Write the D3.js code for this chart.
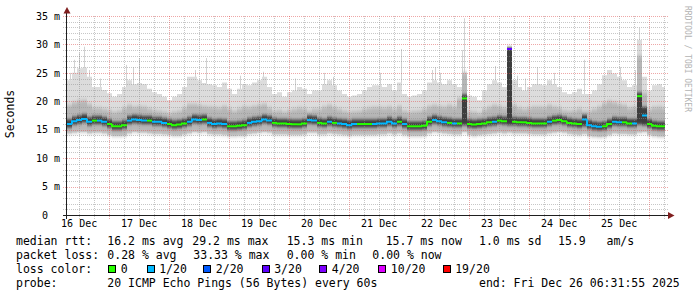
<!DOCTYPE html>
<html><head><meta charset="utf-8">
<script src="https://cdn.jsdelivr.net/npm/d3@7/dist/d3.min.js"></script>
<style>
html,body{margin:0;padding:0;background:#fff;}
svg{display:block;}
text{white-space:pre;}
</style></head><body>
<svg id="chart" width="697" height="297"></svg>
<script>
// ---------------- data ----------------
const startTime = "2025-12-16T07:20:00Z";
const endTime = "2025-12-26T06:32:00Z";
const stepHours = 2;

const median = [16.0,16.5,16.7,16.9,16.4,16.6,16.6,16.4,16.0,15.6,
15.6,15.8,16.6,16.8,16.7,16.6,16.6,16.4,16.4,16.2,
16.0,15.8,15.9,16.1,16.4,16.8,16.7,16.8,16.2,16.0,
16.1,16.0,15.6,15.6,15.7,15.8,16.2,16.4,16.5,16.8,
16.6,16.2,16.1,16.1,16.0,15.95,15.95,16.1,16.7,16.6,
16.2,16.1,16.4,16.2,16.1,16.0,15.8,16.0,16.0,16.0,
16.0,16.0,16.1,16.1,16.4,16.1,16.4,16.0,15.6,15.6,
15.6,15.7,16.4,16.7,16.5,16.3,16.2,16.1,16.1,20.5,
16.0,15.9,16.0,16.1,16.3,16.4,16.6,16.5,29.2,16.4,
16.3,16.3,16.2,16.1,16.1,16.1,16.4,16.6,16.7,16.5,
16.2,16.1,16.0,16.8,15.8,15.6,15.5,15.6,16.0,16.4,
16.3,16.3,16.1,16.1,20.9,17.5,16.0,15.7,15.6,15.6];

const loss = [1,1,1,1,1,0,1,1,0,0,
0,0,1,1,1,1,0,1,1,1,
0,0,0,0,1,1,1,0,1,1,
1,1,0,0,0,0,1,1,1,1,
1,0,0,0,0,0,0,0,1,1,
0,0,1,0,1,1,1,1,0,0,
0,1,1,1,1,1,0,1,0,0,
0,0,0,1,1,1,0,1,0,0,
0,0,0,0,0,1,0,0,3,0,
0,0,0,0,0,0,1,0,0,0,
0,0,0,1,1,1,1,0,0,1,
1,0,0,1,0,1,0,0,0,0];

const minv = [14.4,14.5,14.6,14.6,14.4,14.5,14.5,14.4,14.1,13.9,
13.9,14.0,14.4,14.6,14.5,14.5,14.4,14.3,14.3,14.2,
14.1,14.0,14.0,14.2,14.4,14.6,14.5,14.6,14.3,14.2,
14.2,14.1,13.9,13.9,14.0,14.0,14.3,14.4,14.5,14.6,
14.5,14.2,14.2,14.2,14.1,14.1,14.1,14.2,14.5,14.5,
14.2,14.2,14.4,14.3,14.2,14.1,14.0,14.1,14.1,14.1,
14.1,14.1,14.2,14.2,14.4,14.2,14.4,14.1,13.9,13.9,
13.9,14.0,14.4,14.6,14.5,14.4,14.3,14.2,14.2,14.6,
14.1,14.0,14.1,14.2,14.3,14.4,14.5,14.4,14.5,14.4,
14.4,14.4,14.3,14.2,14.2,14.2,14.4,14.5,14.6,14.5,
14.3,14.2,14.1,14.3,13.9,13.8,13.7,13.8,14.1,14.4,
14.3,14.3,14.2,14.2,14.5,14.6,14.1,13.9,13.8,13.8];

const darkLo = [15.4,15.9,16.1,16.3,15.8,16.0,16.0,15.8,15.4,15.0,
15.0,15.2,16.0,16.2,16.1,16.0,16.0,15.8,15.8,15.6,
15.4,15.2,15.3,15.5,15.8,16.2,16.1,16.2,15.6,15.4,
15.5,15.4,15.0,15.0,15.1,15.2,15.6,15.8,15.9,16.2,
16.0,15.6,15.5,15.5,15.4,15.35,15.35,15.5,16.1,16.0,
15.6,15.5,15.8,15.6,15.5,15.4,15.2,15.4,15.4,15.4,
15.4,15.4,15.5,15.5,15.8,15.5,15.8,15.4,15.0,15.0,
15.0,15.1,15.8,16.1,15.9,15.7,15.6,15.5,15.5,15.8,
15.4,15.3,15.4,15.5,15.7,15.8,16.0,15.9,15.8,15.8,
15.7,15.7,15.6,15.5,15.5,15.5,15.8,16.0,16.1,15.9,
15.6,15.5,15.4,15.6,15.2,15.0,14.9,15.0,15.4,15.8,
15.7,15.7,15.5,15.5,15.9,15.8,15.4,15.1,15.0,15.0];

const darkHi = [16.8,17.3,17.5,17.7,17.2,17.4,17.4,17.2,16.8,16.4,
16.4,16.6,17.4,17.6,17.5,17.4,17.4,17.2,17.2,17.0,
16.8,16.6,16.7,16.9,17.2,17.6,17.5,17.6,17.0,16.8,
16.9,16.8,16.4,16.4,16.5,16.6,17.0,17.2,17.3,17.6,
17.4,17.0,16.9,16.9,16.8,16.75,16.75,16.9,17.5,17.4,
17.0,16.9,17.2,17.0,16.9,16.8,16.6,16.8,16.8,16.8,
16.8,16.8,16.9,16.9,17.2,16.9,17.2,16.8,16.4,16.4,
16.4,16.5,17.2,17.5,17.3,17.1,17.0,16.9,16.9,21.2,
16.8,16.7,16.8,16.9,17.1,17.2,17.4,17.3,29.4,17.2,
17.1,17.1,17.0,16.9,16.9,16.9,17.2,17.4,17.5,17.3,
17.0,16.9,16.8,17.6,16.6,16.4,16.3,16.4,16.8,17.2,
17.1,17.1,16.9,16.9,21.5,19.0,16.8,16.5,16.4,16.4];

const midHi = [19.3,19.8,20.1,20.2,19.5,18.8,18.8,18.6,18.4,18.1,
18.3,18.8,19.3,19.0,19.1,19.0,18.7,18.4,18.3,18.1,
17.9,18.1,18.3,18.8,19.5,19.5,19.3,19.1,19.0,18.9,
18.8,19.1,18.7,18.3,18.7,19.0,18.9,19.1,19.3,19.5,
18.8,18.3,18.4,18.1,18.4,18.6,18.8,18.7,18.3,18.6,
18.6,19.0,19.3,18.9,18.6,18.3,18.1,18.2,18.3,18.6,
18.8,18.9,18.9,18.8,19.0,18.6,19.1,18.3,18.1,18.2,
18.3,18.6,19.1,19.3,19.1,19.0,19.3,19.0,20.5,25.0,
18.2,18.1,17.9,18.6,19.0,19.3,19.1,18.8,29.4,19.3,
18.8,18.6,18.8,19.0,19.0,18.9,19.3,19.0,18.8,18.4,
18.3,18.4,18.7,18.3,18.3,18.6,19.0,19.6,20.0,19.8,
19.5,19.3,18.8,18.9,28.0,21.5,18.6,18.9,19.0,18.8];

const maxv = [23.7,25.0,25.8,25.9,24.3,22.5,22.5,22.0,21.4,20.8,
21.3,22.5,23.7,23.0,23.2,23.0,22.2,21.6,21.3,20.8,
20.2,20.8,21.3,22.5,24.3,24.3,23.7,23.2,23.0,22.8,
22.5,23.3,22.2,21.3,22.2,23.0,22.8,23.3,23.7,24.3,
22.5,21.3,21.6,20.8,21.6,21.9,22.5,22.2,21.3,21.9,
21.9,23.0,23.7,22.8,21.9,21.3,20.8,21.0,21.3,21.9,
22.5,22.8,22.8,22.5,23.0,21.9,23.3,21.3,20.8,21.0,
21.3,21.9,23.3,23.7,23.3,23.0,23.7,23.0,22.5,25.0,
21.0,20.8,20.2,21.9,23.0,23.7,23.3,22.5,29.5,23.7,
22.5,21.9,22.5,23.0,23.0,22.8,23.7,23.0,22.5,21.6,
21.3,21.6,22.2,21.3,21.3,21.9,23.0,24.6,25.5,24.9,
24.3,23.7,22.5,22.8,30.8,24.3,21.9,22.8,23.0,22.5];

const streakTimes = ["2025-12-16T08:32Z","2025-12-16T10:08Z","2025-12-16T12:08Z","2025-12-16T14:08Z","2025-12-16T16:08Z","2025-12-16T20:32Z",
"2025-12-17T06:56Z","2025-12-17T09:44Z","2025-12-17T12:08Z","2025-12-18T10:32Z","2025-12-18T14:56Z","2025-12-19T04:32Z",
"2025-12-19T13:44Z","2025-12-20T02:32Z","2025-12-20T14:08Z","2025-12-20T17:44Z","2025-12-21T12:32Z","2025-12-21T21:20Z",
"2025-12-22T09:20Z","2025-12-22T10:32Z","2025-12-22T12:32Z","2025-12-22T21:20Z","2025-12-22T22:08Z","2025-12-23T10:32Z",
"2025-12-23T19:20Z","2025-12-23T22:32Z","2025-12-24T03:20Z","2025-12-24T10:08Z","2025-12-24T22:08Z","2025-12-25T12:32Z",
"2025-12-25T18:32Z","2025-12-25T20:08Z"];
const streakValues = [25.0,27.3,28.5,29.6,25.5,24.0,26.4,26.0,27.6,25.5,27.6,24.5,
25.2,24.0,25.0,24.3,25.0,29.2,25.5,26.0,25.0,29.0,34.6,26.2,24.5,24.0,26.0,25.0,27.3,26.0,25.5,32.9];

const yTickValues = [0,5,10,15,20,25,30,35];
const yTickLabels = ["0  ","5 m","10 m","15 m","20 m","25 m","30 m","35 m"];
const xTickTimes = ["2025-12-16T12:00Z","2025-12-17T12:00Z","2025-12-18T12:00Z","2025-12-19T12:00Z","2025-12-20T12:00Z",
"2025-12-21T12:00Z","2025-12-22T12:00Z","2025-12-23T12:00Z","2025-12-24T12:00Z","2025-12-25T12:00Z"];
const xTickLabels = ["16 Dec","17 Dec","18 Dec","19 Dec","20 Dec","21 Dec","22 Dec","23 Dec","24 Dec","25 Dec"];

const lossCounts = [0,1,2,3,4,10,19];
const lossLabels = ["0","1/20","2/20","3/20","4/20","10/20","19/20"];
const lossColors = ["#26ff00","#00b8ff","#0059ff","#5e00ff","#7e00ff","#dd00ff","#ff0000"];

const rttStats = ["16.2 ms avg","29.2 ms max","15.3 ms min","15.7 ms now","1.0 ms sd","15.9   am/s"];
const lossStats = ["0.28 % avg","33.33 % max","0.00 % min","0.00 % now"];
const probeText = "20 ICMP Echo Pings (56 Bytes) every 60s";
const endText = "end: Fri Dec 26 06:31:55 2025";
const yAxisTitle = "Seconds";
const watermark = "RRDTOOL / TOBI OETIKER";

// ---------------- drawing ----------------
const MONO = "'DejaVu Sans Mono', monospace";
const svg = d3.select("#chart");
const x = d3.scaleUtc().domain([new Date(startTime), new Date(endTime)]).range([67, 665]);
const y = d3.scaleLinear().domain([0, 35]).range([215, 16]);
const t0 = new Date(startTime);
const H = 3600e3;
const rows = median.map((m, i) => ({
  t: new Date(+t0 + i * stepHours * H), med: m, loss: loss[i],
  lo: minv[i], dLo: darkLo[i], dHi: darkHi[i], mHi: midHi[i], hi: maxv[i]
}));
const ext = rows.concat([{...rows[rows.length - 1], t: new Date(+t0 + rows.length * stepHours * H)}]);

svg.append("rect").attr("width", 697).attr("height", 297).attr("fill", "#fff");
const defs = svg.append("defs");
defs.append("clipPath").attr("id", "plot").append("rect")
  .attr("x", 67).attr("y", 10).attr("width", 598).attr("height", 205);
const f1 = defs.append("filter").attr("id", "softMid").attr("x", "-5%").attr("y", "-50%").attr("width", "110%").attr("height", "200%");
f1.append("feGaussianBlur").attr("stdDeviation", "0.4 2.2");
const f2 = defs.append("filter").attr("id", "softDark").attr("x", "-5%").attr("y", "-50%").attr("width", "110%").attr("height", "200%");
f2.append("feGaussianBlur").attr("stdDeviation", "0.3 1.6");

const gData = svg.append("g").attr("clip-path", "url(#plot)");

// thin smoke streaks
gData.selectAll("line.streak").data(streakTimes).join("line")
  .attr("x1", d => Math.floor(x(new Date(d))) + 0.5)
  .attr("x2", d => Math.floor(x(new Date(d))) + 0.5)
  .attr("y1", y(18))
  .attr("y2", (d, i) => y(streakValues[i]))
  .attr("stroke", "#d2d2d2").attr("stroke-width", 1);

const band = (lo, hi) => d3.area().curve(d3.curveStepAfter)
  .x(d => x(d.t)).y0(d => y(d[lo])).y1(d => y(d[hi]));
gData.append("path").datum(ext).attr("d", band("lo", "hi")).attr("fill", "#dcdcdc");
gData.append("g").attr("filter", "url(#softMid)")
  .append("path").datum(ext).attr("d", band("lo", "mHi")).attr("fill", "#b6b6b6");
gData.append("g").attr("filter", "url(#softDark)")
  .append("path").datum(ext).attr("d", band("dLo", "dHi")).attr("fill", "#3c3c3c");

// grid
const gGrid = svg.append("g");
const minorC = "rgba(143,143,143,0.5)", majorC = "rgba(222,79,79,0.5)";
y.ticks(35).filter(v => v > 0).forEach(v => {
  const yy = Math.round(y(v)) + 0.5;
  gGrid.append("line").attr("x1", 63).attr("x2", 668).attr("y1", yy).attr("y2", yy)
    .attr("stroke", v % 5 ? minorC : majorC).attr("stroke-dasharray", "1,1");
});
d3.utcHour.every(6).range(x.domain()[0], x.domain()[1]).forEach(t => {
  const xx = Math.round(x(t)) + 0.5;
  gGrid.append("line").attr("x1", xx).attr("x2", xx).attr("y1", 16).attr("y2", 219)
    .attr("stroke", t.getUTCHours() === 0 ? majorC : minorC).attr("stroke-dasharray", "1,1");
});

// median line coloured by loss
const colorFor = n => { let c = lossColors[0]; lossCounts.forEach((k, j) => { if (n >= k) c = lossColors[j]; }); return c; };
const lineGen = d3.line();
const gMed = svg.append("g").attr("clip-path", "url(#plot)");
rows.forEach((r, i) => {
  const x0 = x(r.t), x1 = x(ext[i + 1].t);
  let pts = [[x0, y(r.med)], [x1, y(r.med)]];
  if (i > 0) {
    const p = rows[i - 1];
    if (colorFor(p.loss) === colorFor(r.loss) && Math.abs(p.med - r.med) < 2.5) pts = [[x0, y(p.med)]].concat(pts);
  }
  gMed.append("path").attr("d", lineGen(pts)).attr("fill", "none")
    .attr("stroke", colorFor(r.loss)).attr("stroke-width", 2);
});

// axes lines + arrows
svg.append("line").attr("x1", 63).attr("x2", 669).attr("y1", 215.5).attr("y2", 215.5).attr("stroke", "#1f1f1f");
svg.append("line").attr("x1", 66.5).attr("x2", 66.5).attr("y1", 219).attr("y2", 12).attr("stroke", "#1f1f1f");
svg.append("path").attr("d", "M63.5,13.5 L70.5,13.5 L67,7 Z").attr("fill", "#801f1f");
svg.append("path").attr("d", "M668,212 L668,219 L674.5,215.5 Z").attr("fill", "#801f1f");

// axis labels via d3 axes
const yAxis = svg.append("g").attr("transform", "translate(67,0)")
  .call(d3.axisLeft(y).tickValues(yTickValues).tickFormat((d, i) => yTickLabels[i]).tickSize(0).tickPadding(7));
yAxis.select(".domain").remove();
yAxis.selectAll("text").attr("font-family", MONO).attr("font-size", 10).attr("fill", "#000");

const xAxis = svg.append("g").attr("transform", "translate(0,215)")
  .call(d3.axisBottom(x).tickValues(xTickTimes.map(s => new Date(s))).tickFormat((d, i) => xTickLabels[i]).tickSize(0).tickPadding(5));
xAxis.select(".domain").remove();
xAxis.selectAll("text").attr("font-family", MONO).attr("font-size", 10).attr("fill", "#000");

// vertical title
svg.append("text").attr("transform", "translate(14,114) rotate(-90)").attr("text-anchor", "middle")
  .attr("font-family", MONO).attr("font-size", 11.5).attr("fill", "#000").text(yAxisTitle);
// watermark
svg.append("text").attr("transform", "translate(685,59) rotate(90)").attr("text-anchor", "middle")
  .attr("font-family", MONO).attr("font-size", 8).attr("fill", "#b3b3b3").text(watermark);

// legend
const leg = svg.append("g").attr("font-family", MONO).attr("font-size", 11.5).attr("fill", "#000");
const T = (s, xx, yy) => leg.append("text").attr("x", xx).attr("y", yy).text(s);
T("median rtt:", 16, 244.5);
const rttX = [107.3, 192.3, 286.7, 385.7, 479, 558];
rttStats.forEach((s, i) => T(s, rttX[i], 244.5));
T("packet loss:", 16, 258.5);
const lossX = [107.3, 193.3, 286.7, 372.3];
lossStats.forEach((s, i) => T(s, lossX[i], 258.5));
T("loss color:", 16, 272.5);
const boxX = [108.3, 146.7, 203.3, 261.7, 319.3, 378.3, 442.7];
lossLabels.forEach((s, i) => {
  leg.append("rect").attr("x", Math.round(boxX[i]) + 0.5).attr("y", 265.5).attr("width", 7).attr("height", 7)
    .attr("fill", lossColors[i]).attr("stroke", "#000").attr("stroke-width", 1);
  T(s, boxX[i] + 12.5, 272.5);
});
T("probe:", 16, 286.5);
T(probeText, 107.3, 286.5);
T(endText, 479, 286.5);
</script>
</body></html>
